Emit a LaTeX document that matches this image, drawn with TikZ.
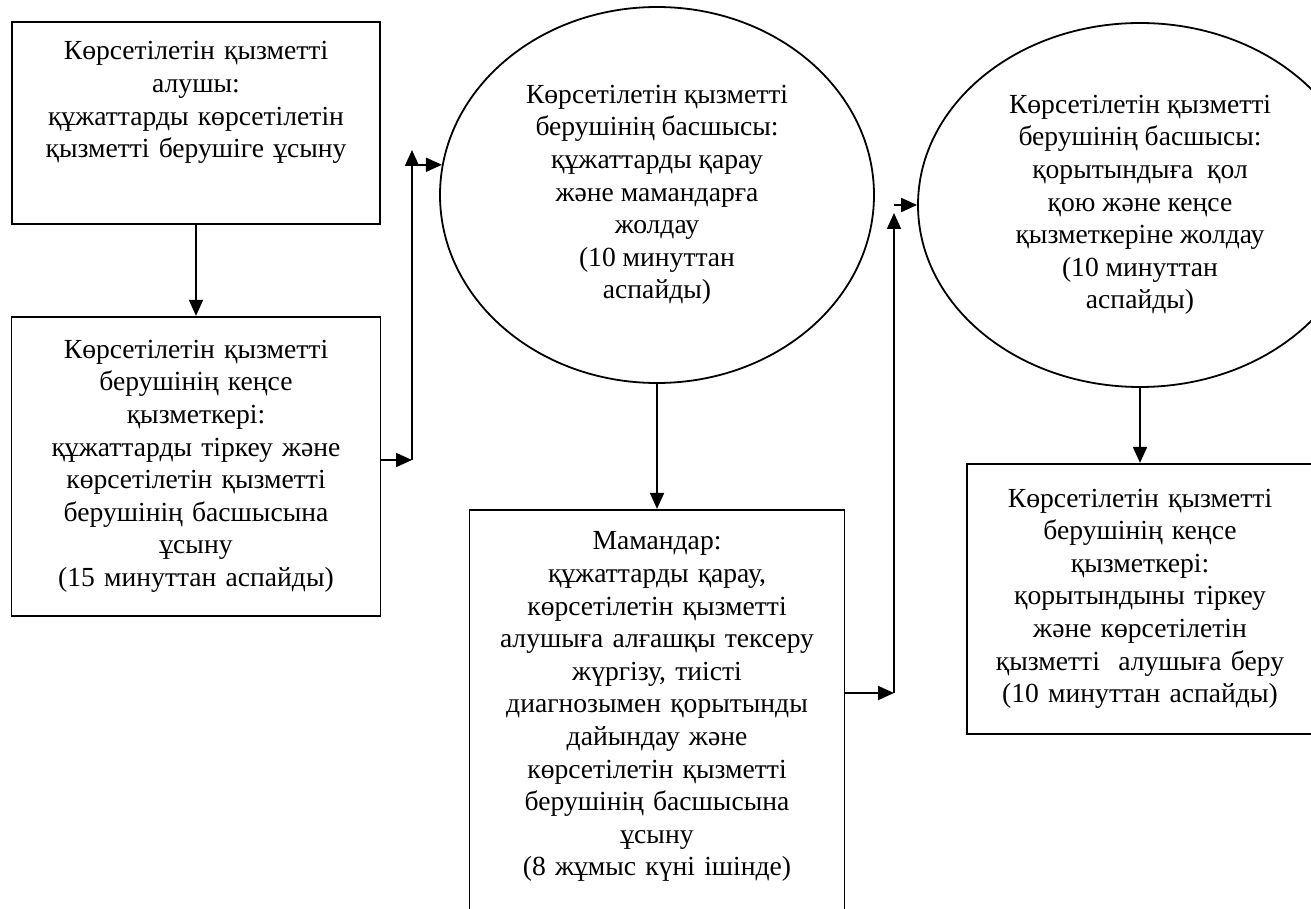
\documentclass[tikz,border=0pt]{standalone}
\usepackage{fontspec}
\setmainfont{Liberation Serif}
\usetikzlibrary{shapes.geometric, arrows.meta, positioning}

\begin{document}
\begin{tikzpicture}[
        x=0.5pt, y=-0.5pt,
        font=\fontsize{13.8pt}{16.3pt}\selectfont,
        box/.style={draw, rectangle, line width=0.9pt, inner sep=0pt, align=center},
        oval/.style={draw, ellipse, line width=0.9pt, inner sep=0pt, align=center},
        arrow/.style={-{Triangle[length=8pt, width=7pt]}, line width=0.9pt}
    ]
        \useasboundingbox (0,0) rectangle (1311,909);

        \node[box, text width=184pt, text height=19pt, text depth=82pt] (recv) at (196,123) {Көрсетілетін қызметті\\алушы:\\құжаттарды көрсетілетін\\қызметті берушіге ұсыну};
        \node[box, below=45.5pt of recv, text width=184.5pt, minimum height=149.5pt] (office) {Көрсетілетін қызметті\\берушінің кеңсе\\қызметкері:\\құжаттарды тіркеу және\\көрсетілетін қызметті\\берушінің басшысына\\ұсыну\\(15 минуттан аспайды)};
        \node[oval, minimum width=217pt, minimum height=188pt] (head) at (657,195) {Көрсетілетін қызметті\\берушінің басшысы:\\құжаттарды қарау\\және мамандарға\\жолдау\\(10 минуттан\\аспайды)};
        \node[box, below=62.5pt of head, text width=187.5pt, text height=20pt, text depth=191pt] (spec) {Мамандар:\\құжаттарды қарау,\\көрсетілетін қызметті\\алушыға алғашқы тексеру\\жүргізу, тиісті\\диагнозымен қорытынды\\дайындау және\\көрсетілетін қызметті\\берушінің басшысына\\ұсыну\\(8 жұмыс күні ішінде)};
        \node[oval, minimum width=222pt, minimum height=182pt] (sign) at (1140,205) {Көрсетілетін қызметті\\берушінің басшысы:\\қорытындыға\ \ қол\\қою және кеңсе\\қызметкеріне жолдау\\(10 минуттан\\аспайды)};
        \node[box, below=37.5pt of sign, text width=173pt, minimum height=135pt] (issue) {Көрсетілетін қызметті\\берушінің кеңсе\\қызметкері:\\қорытындыны тіркеу\\және көрсетілетін\\қызметті\ \ алушыға беру\\(10 минуттан аспайды)};

        \coordinate (turn1) at (412,460);
        \coordinate (tip1) at (412,150);
        \coordinate (turn2) at (894,693);
        \coordinate (tip2) at (894,213);

        \draw[arrow] (recv) -- (office);
        \draw[arrow] (office.east |- turn1) -- (turn1);
        \draw[arrow] (turn1) -- (tip1);
        \draw[arrow] (tip1 |- head.172) -- (head.172);
        \draw[arrow] (head) -- (spec);
        \draw[arrow] (spec.east |- turn2) -- (turn2);
        \draw[arrow] (turn2) -- (tip2);
        \draw[arrow] (tip2 |- sign.west) -- (sign.west);
        \draw[arrow] (sign) -- (issue);
    \end{tikzpicture}
\end{document}
